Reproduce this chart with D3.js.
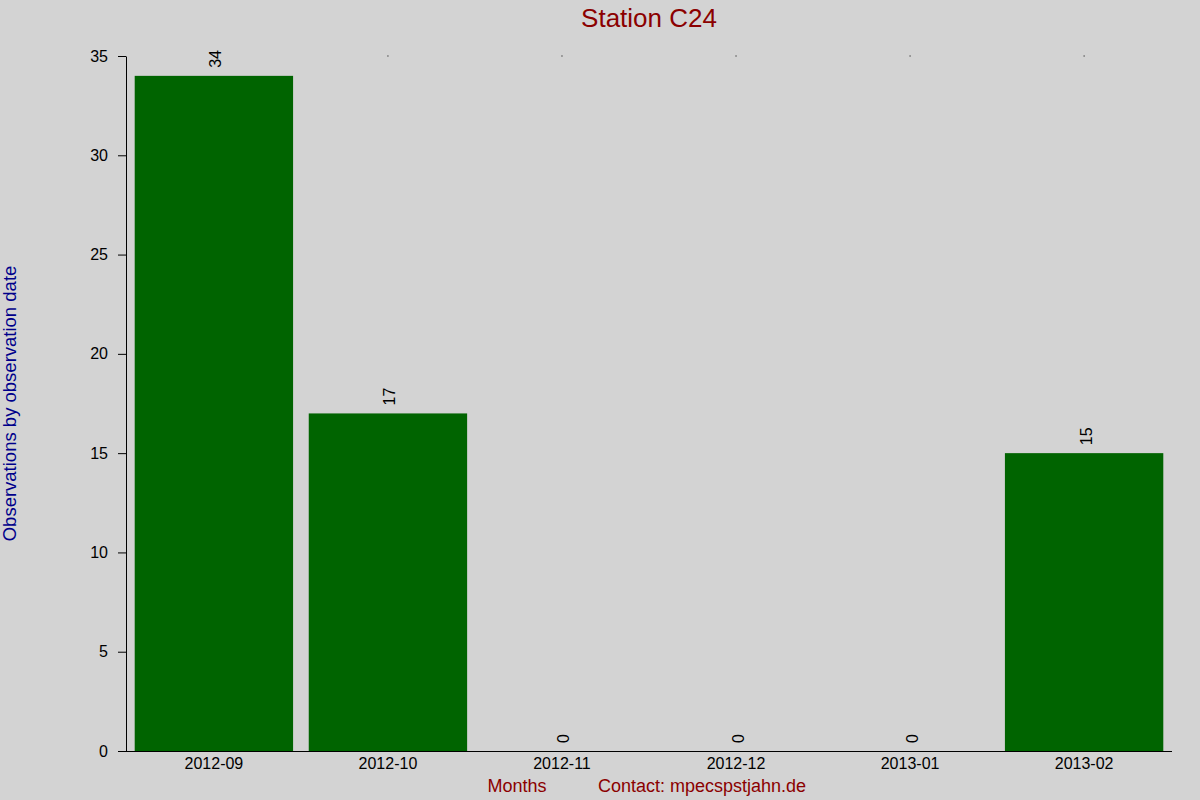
<!DOCTYPE html>
<html>
<head>
<meta charset="utf-8">
<script src="https://cdn.jsdelivr.net/npm/d3@7"></script>
<style>
  body { margin: 0; background: #d3d3d3; }
  svg text { font-family: "Liberation Sans", Arial, sans-serif; }
</style>
</head>
<body>
<div id="chart"></div>
<script>
// データ
const months = ["2012-09", "2012-10", "2012-11", "2012-12", "2013-01", "2013-02"];
const counts = [34, 17, 0, 0, 0, 15];
const yTicks = [0, 5, 10, 15, 20, 25, 30, 35];

const width = 1200, height = 800;
const plotLeft = 126, plotRight = 1172, plotTop = 56, plotBottom = 751;
const fontFamily = "Liberation Sans, Arial, sans-serif";

const svg = d3.select("#chart").append("svg")
  .attr("width", width).attr("height", height);

svg.append("rect").attr("width", width).attr("height", height).attr("fill", "#d3d3d3");

const x = d3.scaleBand().domain(months).range([plotLeft, plotRight]).paddingInner(0.09).paddingOuter(0.05);
const y = d3.scaleLinear().domain([0, 35]).range([plotBottom, plotTop]);

// 棒
svg.append("g").selectAll("rect")
  .data(months)
  .join("rect")
  .attr("x", d => x(d))
  .attr("width", x.bandwidth())
  .attr("y", (d, i) => y(counts[i]))
  .attr("height", (d, i) => plotBottom - y(counts[i]))
  .attr("fill", "#006400");

// 値ラベル（縦書き）
svg.append("g").selectAll("text")
  .data(months)
  .join("text")
  .attr("transform", (d, i) => `translate(${x(d) + x.bandwidth() / 2 + 7.5},${y(counts[i]) - 8}) rotate(-90)`)
  .attr("font-size", 16)
  .attr("fill", "#000")
  .text((d, i) => counts[i]);

// 上端の小さな目盛り
svg.append("g").selectAll("rect")
  .data(months)
  .join("rect")
  .attr("x", d => x(d) + x.bandwidth() / 2 - 0.5)
  .attr("y", plotTop - 0.5)
  .attr("width", 1).attr("height", 1)
  .attr("fill", "#000");

// Y軸
const yAxis = svg.append("g")
  .attr("transform", `translate(${plotLeft},0)`)
  .call(d3.axisLeft(y).tickValues(yTicks).tickSize(8).tickPadding(10).tickSizeOuter(0));
yAxis.select(".domain").attr("stroke", "#000");
yAxis.selectAll("text").attr("font-size", 16).attr("fill", "#000").attr("font-family", fontFamily);

// X軸
const xAxis = svg.append("g")
  .attr("transform", `translate(0,${plotBottom})`)
  .call(d3.axisBottom(x).tickSize(0).tickPadding(7));
xAxis.select(".domain").attr("d", `M${plotLeft - 8},0.5H${plotRight}`).attr("stroke", "#000");
xAxis.selectAll("text").attr("font-size", 16).attr("fill", "#000").attr("font-family", fontFamily);

// タイトル
svg.append("text")
  .attr("x", (plotLeft + plotRight) / 2).attr("y", 27)
  .attr("text-anchor", "middle")
  .attr("font-size", 26)
  .attr("fill", "#8b0000")
  .text("Station C24");

// Y軸ラベル
svg.append("text")
  .attr("transform", `translate(16,${(plotTop + plotBottom) / 2}) rotate(-90)`)
  .attr("text-anchor", "middle")
  .attr("font-size", 18.5)
  .attr("fill", "#00008b")
  .text("Observations by observation date");

// X軸ラベル
svg.append("text")
  .attr("x", 517).attr("y", 792)
  .attr("text-anchor", "middle")
  .attr("font-size", 18)
  .attr("fill", "#8b0000")
  .text("Months");

svg.append("text")
  .attr("x", 598).attr("y", 792)
  .attr("font-size", 18)
  .attr("fill", "#8b0000")
  .text("Contact: mpecspstjahn.de");
</script>
</body>
</html>
